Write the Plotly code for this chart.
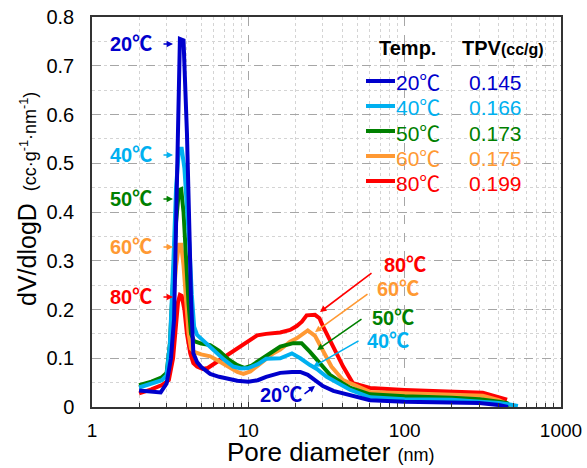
import plotly.graph_objects as go

# ---------------- data ----------------
temps = ["20℃", "40℃", "50℃", "60℃", "80℃"]
tpv = ["0.145", "0.166", "0.173", "0.175", "0.199"]
colors = ["#0000CC", "#00B0F0", "#008000", "#FF9933", "#FF0000"]

x20 = [2.0, 2.4, 2.75, 3.0, 3.2, 3.35, 3.45, 3.55, 3.65, 3.85, 3.95, 4.05, 4.2, 4.3, 4.45, 4.7, 5.0, 5.7, 6.5, 7.5,
       8.5, 10, 11.5, 13, 16, 19, 21.5, 24, 27, 30, 35, 40, 45, 60, 100, 200, 300, 400, 458]
y20 = [0.034, 0.032, 0.030, 0.048, 0.10, 0.18, 0.35, 0.58, 0.755, 0.752, 0.66, 0.56, 0.36, 0.22, 0.11, 0.092, 0.082, 0.068, 0.062, 0.057,
       0.054, 0.052, 0.055, 0.062, 0.070, 0.072, 0.072, 0.066, 0.054, 0.043, 0.033, 0.028, 0.024, 0.014, 0.011, 0.010, 0.008, 0.004, 0.0]

x40 = [2.0, 2.4, 2.8, 3.0, 3.15, 3.3, 3.45, 3.6, 3.75, 3.9, 4.05, 4.2, 4.35, 4.5, 4.7, 5.2, 6.0, 7.0, 8.0, 9.0,
       10, 11.5, 13, 16, 19, 21.5, 24.8, 27.4, 31.7, 36, 40, 45, 60, 100, 200, 300, 400, 470, 530]
y40 = [0.040, 0.047, 0.055, 0.065, 0.13, 0.28, 0.45, 0.53, 0.53, 0.49, 0.42, 0.33, 0.23, 0.165, 0.148, 0.135, 0.117, 0.097, 0.083, 0.079,
       0.08, 0.088, 0.099, 0.10, 0.11, 0.10, 0.086, 0.078, 0.062, 0.052, 0.045, 0.035, 0.02, 0.016, 0.015, 0.012, 0.008, 0.005, 0.002]

x50 = [2.0, 2.4, 2.8, 3.0, 3.15, 3.3, 3.45, 3.6, 3.72, 3.85, 4.0, 4.15, 4.3, 4.5, 5.0, 5.7, 6.5, 7.5, 8.5, 9.5,
       10.5, 12, 14, 16, 19.4, 21.9, 24.8, 28, 33.3, 40, 45, 60, 100, 200, 303, 400, 452, 470]
y50 = [0.045, 0.052, 0.061, 0.07, 0.13, 0.26, 0.38, 0.445, 0.447, 0.40, 0.30, 0.21, 0.15, 0.135, 0.13, 0.127, 0.115, 0.097, 0.086, 0.080,
       0.085, 0.098, 0.113, 0.124, 0.131, 0.131, 0.113, 0.093, 0.066, 0.049, 0.039, 0.026, 0.022, 0.019, 0.016, 0.011, 0.008, 0.002]

x60 = [2.0, 2.4, 2.8, 3.0, 3.15, 3.3, 3.45, 3.6, 3.72, 3.85, 4.0, 4.15, 4.3, 4.5, 5.0, 5.7, 6.5, 7.5, 8.5, 9.3,
       10.3, 11.5, 13, 14.4, 16, 18.5, 20.4, 22, 24, 26.7, 29.5, 34, 40.4, 44.8, 60, 100, 200, 316, 400, 495]
y60 = [0.041, 0.05, 0.059, 0.068, 0.11, 0.21, 0.29, 0.333, 0.333, 0.29, 0.21, 0.15, 0.12, 0.113, 0.108, 0.104, 0.094, 0.081, 0.072, 0.068,
       0.073, 0.085, 0.098, 0.11, 0.118, 0.134, 0.141, 0.148, 0.157, 0.146, 0.121, 0.083, 0.055, 0.049, 0.031, 0.028, 0.026, 0.023, 0.014, 0.0]

x80 = [2.0, 2.4, 2.8, 3.1, 3.3, 3.45, 3.55, 3.65, 3.75, 3.9, 4.05, 4.25, 4.45, 4.7, 5.1, 5.5, 6.0, 6.6, 7.5, 8.5,
       10, 11.4, 13, 16, 18.5, 20.4, 22, 23.6, 26.7, 28.5, 30.1, 34.8, 40.4, 46.6, 60, 100, 200, 316, 452]
y80 = [0.028, 0.036, 0.045, 0.055, 0.10, 0.17, 0.215, 0.23, 0.228, 0.20, 0.15, 0.11, 0.09, 0.083, 0.078, 0.08, 0.088, 0.097, 0.11, 0.12,
       0.135, 0.147, 0.15, 0.153, 0.158, 0.166, 0.175, 0.188, 0.189, 0.182, 0.165, 0.124, 0.083, 0.049, 0.039, 0.035, 0.032, 0.029, 0.015]

xs = [x20, x40, x50, x60, x80]
ys = [y20, y40, y50, y60, y80]

x_ticks = [1, 10, 100, 1000]
x_ticklabels = ["1", "10", "100", "1000"]
x_minor = [m * d for d in (1, 10, 100) for m in range(2, 10)]
y_ticks = [0, 0.1, 0.2, 0.3, 0.4, 0.5, 0.6, 0.7, 0.8]
y_ticklabels = ["0", "0.1", "0.2", "0.3", "0.4", "0.5", "0.6", "0.7", "0.8"]

# ---------------- layout helpers ----------------
W, H = 587, 468
L, R, T, B = 92, 26, 17, 61
PW, PH = W - L - R, H - T - B
FONT = "Liberation Sans, Arial, Noto Sans CJK JP, sans-serif"


def px(p):
    return (p - L) / PW


def py(p):
    return (H - B - p) / PH


fig = go.Figure()
order = [4, 3, 2, 1, 0]
for i in order:
    fig.add_trace(go.Scatter(x=xs[i], y=ys[i], mode="lines", name=temps[i],
                             line=dict(color=colors[i], width=4), showlegend=False))

ann = []
shapes = []

# left peak labels with small arrows
left_y = [44, 155, 199, 247, 297]
for i in range(5):
    ann.append(dict(xref="paper", yref="paper", x=px(131), y=py(left_y[i]), text="<b>%s</b>" % temps[i],
                    showarrow=False, font=dict(size=20, color=colors[i], family=FONT),
                    xanchor="center", yanchor="middle"))
    ann.append(dict(xref="paper", yref="paper", x=px(173), y=py(left_y[i]), text="",
                    showarrow=True, ax=-11, ay=0, axref="pixel", ayref="pixel",
                    arrowhead=2, arrowsize=0.8, arrowwidth=1.6, arrowcolor=colors[i], standoff=0))

# right labels with long arrows
right_txt = [(281, 395), (388, 341), (393, 318), (398, 289), (405, 265)]
right_head = [(315, 386), (313, 367), (317, 350), (315, 332), (320, 312)]
right_tail = [(303, 395), (360, 340), (363, 318), (369, 293), (373, 272)]
for i in range(5):
    ann.append(dict(xref="paper", yref="paper", x=px(right_txt[i][0]), y=py(right_txt[i][1]),
                    text="<b>%s</b>" % temps[i], showarrow=False,
                    font=dict(size=20, color=colors[i], family=FONT), xanchor="center", yanchor="middle"))
    hx, hy = right_head[i]
    tx, ty = right_tail[i]
    ann.append(dict(xref="paper", yref="paper", x=px(hx), y=py(hy), text="",
                    showarrow=True, ax=tx - hx, ay=ty - hy, axref="pixel", ayref="pixel",
                    arrowhead=2, arrowsize=0.8, arrowwidth=1.6, arrowcolor=colors[i], standoff=0))

# legend table
ann.append(dict(xref="paper", yref="paper", x=px(407), y=py(48), text="<b>Temp.</b>", showarrow=False,
                font=dict(size=20, color="black", family=FONT), xanchor="center", yanchor="middle"))
ann.append(dict(xref="paper", yref="paper", x=px(503), y=py(48),
                text="<b>TPV<span style='font-size:16px'>(cc/g)</span></b>", showarrow=False,
                font=dict(size=20, color="black", family=FONT), xanchor="center", yanchor="middle"))
for i in range(5):
    yl = 81 + 25 * i
    shapes.append(dict(type="line", xref="paper", yref="paper", x0=px(366), x1=px(395), y0=py(yl), y1=py(yl),
                       line=dict(color=colors[i], width=4)))
    ann.append(dict(xref="paper", yref="paper", x=px(394), y=py(yl + 2), text=temps[i], showarrow=False,
                    font=dict(size=21, color=colors[i], family=FONT), xanchor="left", yanchor="middle"))
    ann.append(dict(xref="paper", yref="paper", x=px(495), y=py(yl + 2), text=tpv[i], showarrow=False,
                    font=dict(size=21, color=colors[i], family=FONT), xanchor="center", yanchor="middle"))

# axis titles
ann.append(dict(xref="paper", yref="paper", x=px(27), y=py(199), textangle=-90,
                text="dV/dlogD <span style='font-size:18px'> (cc·g<sup>-1</sup>·nm<sup>-1</sup>)</span>",
                showarrow=False, font=dict(size=25, color="black", family=FONT),
                xanchor="center", yanchor="middle"))
ann.append(dict(xref="paper", yref="paper", x=px(331), y=py(452),
                text="Pore diameter <span style='font-size:18px'>(nm)</span>",
                showarrow=False, font=dict(size=26, color="black", family=FONT),
                xanchor="center", yanchor="middle"))

fig.update_layout(
    width=W, height=H,
    margin=dict(l=L, r=R, t=T, b=B, autoexpand=False),
    paper_bgcolor="white", plot_bgcolor="white",
    font=dict(family=FONT, size=19, color="black"),
    showlegend=False,
    annotations=ann, shapes=shapes,
)
fig.update_xaxes(type="log", range=[0, 3], tickmode="array", tickvals=x_ticks, ticktext=x_ticklabels,
                 ticks="inside", ticklen=5, tickcolor="#333", ticklabelstandoff=5, automargin=False,
                 showline=True, mirror=True, linecolor="#333", linewidth=1.5,
                 showgrid=True, gridcolor="#a6a6a6", griddash="dash", gridwidth=1,
                 minor=dict(tickmode="array", tickvals=x_minor, ticks="inside", ticklen=4, tickcolor="#333",
                            showgrid=True, gridcolor="#d4d4d4", griddash="dot", gridwidth=1),
                 tickfont=dict(size=19, family=FONT), zeroline=False)
fig.update_yaxes(range=[0, 0.8], tickmode="array", tickvals=y_ticks, ticktext=y_ticklabels, ticks="",
                 ticklabelstandoff=12, automargin=False,
                 showline=True, mirror=True, linecolor="#333", linewidth=1.5,
                 showgrid=True, gridcolor="#a6a6a6", griddash="dash", gridwidth=1,
                 minor=dict(dtick=0.05, showgrid=True, gridcolor="#d4d4d4", griddash="dot", gridwidth=1),
                 tickfont=dict(size=20, family=FONT), zeroline=False)

fig.write_html("out.html", config={"displayModeBar": False},
               post_script="document.body.style.margin='0px';document.body.style.padding='0px';"
                           "document.body.style.overflow='hidden';")
